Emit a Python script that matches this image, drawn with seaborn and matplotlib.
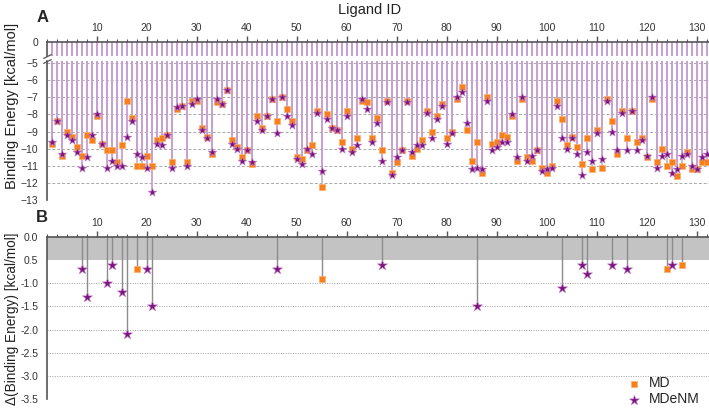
import numpy as np
import pandas as pd
import matplotlib
matplotlib.use("Agg")
import matplotlib.pyplot as plt
import seaborn as sns
from matplotlib.ticker import MultipleLocator, FixedLocator, FixedFormatter

# ---- data ----
ligand_ids = list(range(1, 133))
md_energy = [
    -9.7, -8.4, -10.4, -9.0, -9.3, -9.9, -10.4, -9.2, -9.5, -8.1,
    -9.7, -10.1, -10.1, -10.8, -9.8, -7.2, -8.2, -11.0, -11.0, -10.4,
    -11.0, -9.5, -9.4, -9.2, -10.8, -7.7, -7.5, -10.8, -7.2, -7.2,
    -8.8, -9.3, -10.3, -7.3, -7.4, -6.6, -9.5, -9.9, -10.5, -10.1,
    -10.9, -8.1, -8.8, -8.1, -7.1, -8.4, -7.0, -7.7, -8.4, -10.5,
    -10.6, -10.1, -9.8, -7.8, -12.2, -8.0, -8.8, -8.9, -9.6, -7.8,
    -10.0, -9.4, -7.2, -7.3, -9.4, -8.2, -10.1, -7.2, -11.4, -10.8,
    -10.1, -7.2, -10.4, -10.0, -9.5, -7.8, -9.0, -8.1, -7.4, -9.4,
    -9.0, -7.1, -6.4, -8.9, -10.7, -9.6, -11.4, -7.0, -9.7, -9.6,
    -9.2, -9.3, -8.1, -10.7, -7.1, -10.5, -10.7, -10.1, -11.1, -11.4,
    -11.0, -7.2, -8.3, -9.8, -9.3, -9.9, -10.9, -9.4, -11.2, -8.9,
    -11.1, -7.1, -8.4, -10.3, -7.8, -9.4, -7.8, -9.6, -9.4, -10.5,
    -7.1, -10.8, -10.0, -11.0, -10.8, -11.6, -11.0, -10.2, -11.2, -11.2,
    -10.8, -10.8,
]
mdenm_energy = [
    -9.6, -8.4, -10.3, -9.2, -9.5, -10.2, -11.1, -10.5, -9.2, -8.0,
    -9.7, -11.1, -10.7, -11.0, -11.0, -9.3, -8.4, -10.3, -10.5, -11.1,
    -12.5, -9.7, -9.8, -9.2, -11.1, -7.6, -7.5, -11.0, -7.4, -7.1,
    -8.9, -9.4, -10.2, -7.1, -7.4, -6.6, -9.7, -10.0, -10.7, -10.1,
    -10.8, -8.4, -8.9, -8.1, -7.1, -9.1, -7.0, -8.1, -8.6, -10.6,
    -10.9, -10.0, -10.3, -7.9, -11.3, -8.3, -8.8, -8.9, -10.0, -8.1,
    -10.2, -9.8, -7.1, -7.7, -9.6, -8.5, -10.7, -7.3, -11.5, -10.5,
    -10.1, -7.3, -10.2, -9.8, -9.8, -7.9, -9.4, -8.3, -7.5, -9.7,
    -9.1, -7.0, -6.7, -8.5, -11.2, -11.1, -11.2, -7.2, -10.1, -9.9,
    -9.6, -9.6, -8.0, -10.5, -7.0, -10.7, -10.4, -10.1, -11.3, -11.2,
    -11.1, -7.5, -9.4, -10.0, -9.4, -10.3, -11.5, -10.2, -10.7, -9.1,
    -10.6, -7.2, -9.0, -10.1, -7.9, -10.1, -7.8, -10.1, -9.5, -10.4,
    -7.0, -11.1, -10.4, -10.3, -11.4, -11.2, -10.4, -10.3, -11.0, -11.2,
    -10.5, -10.3,
]

# panel B: differences larger than 0.5 kcal/mol
delta_ids_md = [18, 55, 124, 127]
delta_md = [-0.7, -0.9, -0.7, -0.6]
delta_ids_mdenm = [7, 8, 12, 13, 15, 16, 20, 21, 46, 67, 86, 103, 107, 108, 113, 116, 125]
delta_mdenm = [-0.7, -1.3, -1.0, -0.6, -1.2, -2.1, -0.7, -1.5, -0.7, -0.6,
               -1.5, -1.1, -0.6, -0.8, -0.6, -0.7, -0.6]

b_ticks = [0.0, -0.5, -1.0, -1.5, -2.0, -2.5, -3.0, -3.5]
b_tick_labels = ["0.0", "0.5", "-1.0", "-1.5", "-2.0", "-2.5", "-3.0", "-3.5"]

# ---- style ----
sns.set_theme(style="white")
plt.rcParams["font.family"] = ["Liberation Sans", "DejaVu Sans"]
plt.rcParams["axes.linewidth"] = 1.2

MD_COLOR = "#f7801a"
MDENM_COLOR = "#7d1480"
SPINE = "#555555"
LINE_PURPLE = "#c79ed3"
LINE_GRAY = "#bdbdbd"

df_a = pd.DataFrame({"Ligand": ligand_ids, "MD": md_energy, "MDeNM": mdenm_energy})
df_md = pd.DataFrame({"Ligand": delta_ids_md, "Delta": delta_md})
df_mdenm = pd.DataFrame({"Ligand": delta_ids_mdenm, "Delta": delta_mdenm})

W, H = 709, 408
fig = plt.figure(figsize=(W / 100, H / 100), dpi=100)

def px_axes(top, bottom, left=46.7, right=709):
    return fig.add_axes([left / W, 1 - bottom / H, (right - left) / W, (bottom - top) / H])

ax_top = px_axes(41.7, 56)
ax_a = px_axes(61, 200.3)
ax_b = px_axes(236.7, 399.3)

XMAX = 132.46

def style_axis(ax):
    for s in ["right", "bottom"]:
        ax.spines[s].set_visible(False)
    for s in ["left", "top"]:
        ax.spines[s].set_color(SPINE)
    ax.set_xlim(0, XMAX)
    ax.tick_params(which="both", direction="out", color=SPINE, labelsize=7.5,
                   labelcolor="#333333", pad=2)
    ax.tick_params(which="major", length=4, width=1)
    ax.tick_params(which="minor", length=2.5, width=0.8)
    ax.set_xlabel("")
    ax.set_ylabel("")

# ---- panel A (broken y axis) ----
for ax in (ax_top, ax_a):
    ax.vlines(df_a["Ligand"], df_a["MD"], 0, color=LINE_GRAY, lw=1.3, zorder=1)
    ax.vlines(df_a["Ligand"], df_a["MDeNM"], 0, color=LINE_PURPLE, lw=1.3, zorder=2)

sns.scatterplot(data=df_a, x="Ligand", y="MD", marker="s", color=MD_COLOR, s=14,
                edgecolor="#fbb070", linewidth=0.5, ax=ax_a, zorder=3)
sns.scatterplot(data=df_a, x="Ligand", y="MDeNM", marker="*", color=MDENM_COLOR, s=42,
                edgecolor="#c27fc5", linewidth=0.4, ax=ax_a, zorder=4)

style_axis(ax_top)
ax_top.set_ylim(-0.83, 0)
ax_top.xaxis.tick_top()
ax_top.xaxis.set_minor_locator(MultipleLocator(2))
ax_top.set_xticks([t for t in range(10, 131, 10)])
ax_top.yaxis.set_major_locator(FixedLocator([0]))
ax_top.set_yticklabels(["0"])

style_axis(ax_a)
ax_a.spines["top"].set_visible(False)
ax_a.set_ylim(-13, -4.9)
ax_a.set_xticks([])
ax_a.yaxis.set_minor_locator(MultipleLocator(0.5))
ax_a.set_yticks(range(-13, -4))
for g in range(-12, -4):
    ax_a.axhline(g, color="#a8a8a8", lw=0.7, ls=(0, (3, 2)), zorder=0)

# break marks on the left spine
brk = dict(marker=[(-1, -0.5), (1, 0.5)], markersize=6, linestyle="none",
           color=SPINE, mec=SPINE, mew=0.9, clip_on=False)
ax_top.plot([0], [0], transform=ax_top.transAxes, **brk)
ax_a.plot([0], [1], transform=ax_a.transAxes, **brk)

# ---- panel B ----
ax_b.axhspan(-0.5, 0, color="#c3c3c3", zorder=0, lw=0)
ax_b.vlines(df_md["Ligand"], df_md["Delta"], 0, color="#8c8c8c", lw=1, zorder=1)
ax_b.vlines(df_mdenm["Ligand"], df_mdenm["Delta"], 0, color="#8c8c8c", lw=1, zorder=1)
sns.scatterplot(data=df_md, x="Ligand", y="Delta", marker="s", color=MD_COLOR, s=22,
                edgecolor="#fbb070", linewidth=0.5, ax=ax_b, zorder=3, label="MD")
sns.scatterplot(data=df_mdenm, x="Ligand", y="Delta", marker="*", color=MDENM_COLOR, s=58,
                edgecolor="#c27fc5", linewidth=0.4, ax=ax_b, zorder=4, label="MDeNM")
for g in [-1.0, -1.5, -2.0, -2.5, -3.0]:
    ax_b.axhline(g, color="#a0a0a0", lw=0.7, ls=(0, (1, 1.5)), zorder=0)

style_axis(ax_b)
ax_b.set_ylim(-3.5, 0)
ax_b.xaxis.tick_top()
ax_b.set_xticks([t for t in range(10, 131, 10)])
ax_b.xaxis.set_minor_locator(MultipleLocator(2))
ax_b.yaxis.set_major_locator(FixedLocator(b_ticks))
ax_b.yaxis.set_major_formatter(FixedFormatter(b_tick_labels))
ax_b.yaxis.set_minor_locator(MultipleLocator(0.25))

handles, labels = ax_b.get_legend_handles_labels()
ax_b.legend_.remove()
fig.legend(handles, labels, loc="lower left", bbox_to_anchor=(616 / W, -8 / H),
           frameon=False, fontsize=10, handletextpad=0.5, labelspacing=0.15,
           borderpad=0.2, handlelength=1.2)

# ---- texts ----
fig.text(370 / W, 1 - 10 / H, "Ligand ID", ha="center", va="center", fontsize=10.5, color="#222222")
fig.text(43 / W, 1 - 17 / H, "A", ha="center", va="center", fontsize=12, fontweight="bold")
fig.text(42 / W, 1 - 218 / H, "B", ha="center", va="center", fontsize=12, fontweight="bold")
fig.text(12 / W, 1 - 106 / H, "Binding Energy [kcal/mol]", rotation=90,
         ha="center", va="center", fontsize=10.5, color="#222222")
fig.text(12 / W, 1 - 319 / H, "\u0394(Binding Energy) [kcal/mol]", rotation=90,
         ha="center", va="center", fontsize=9.8, color="#222222")

fig.savefig("out.png", dpi=100)
